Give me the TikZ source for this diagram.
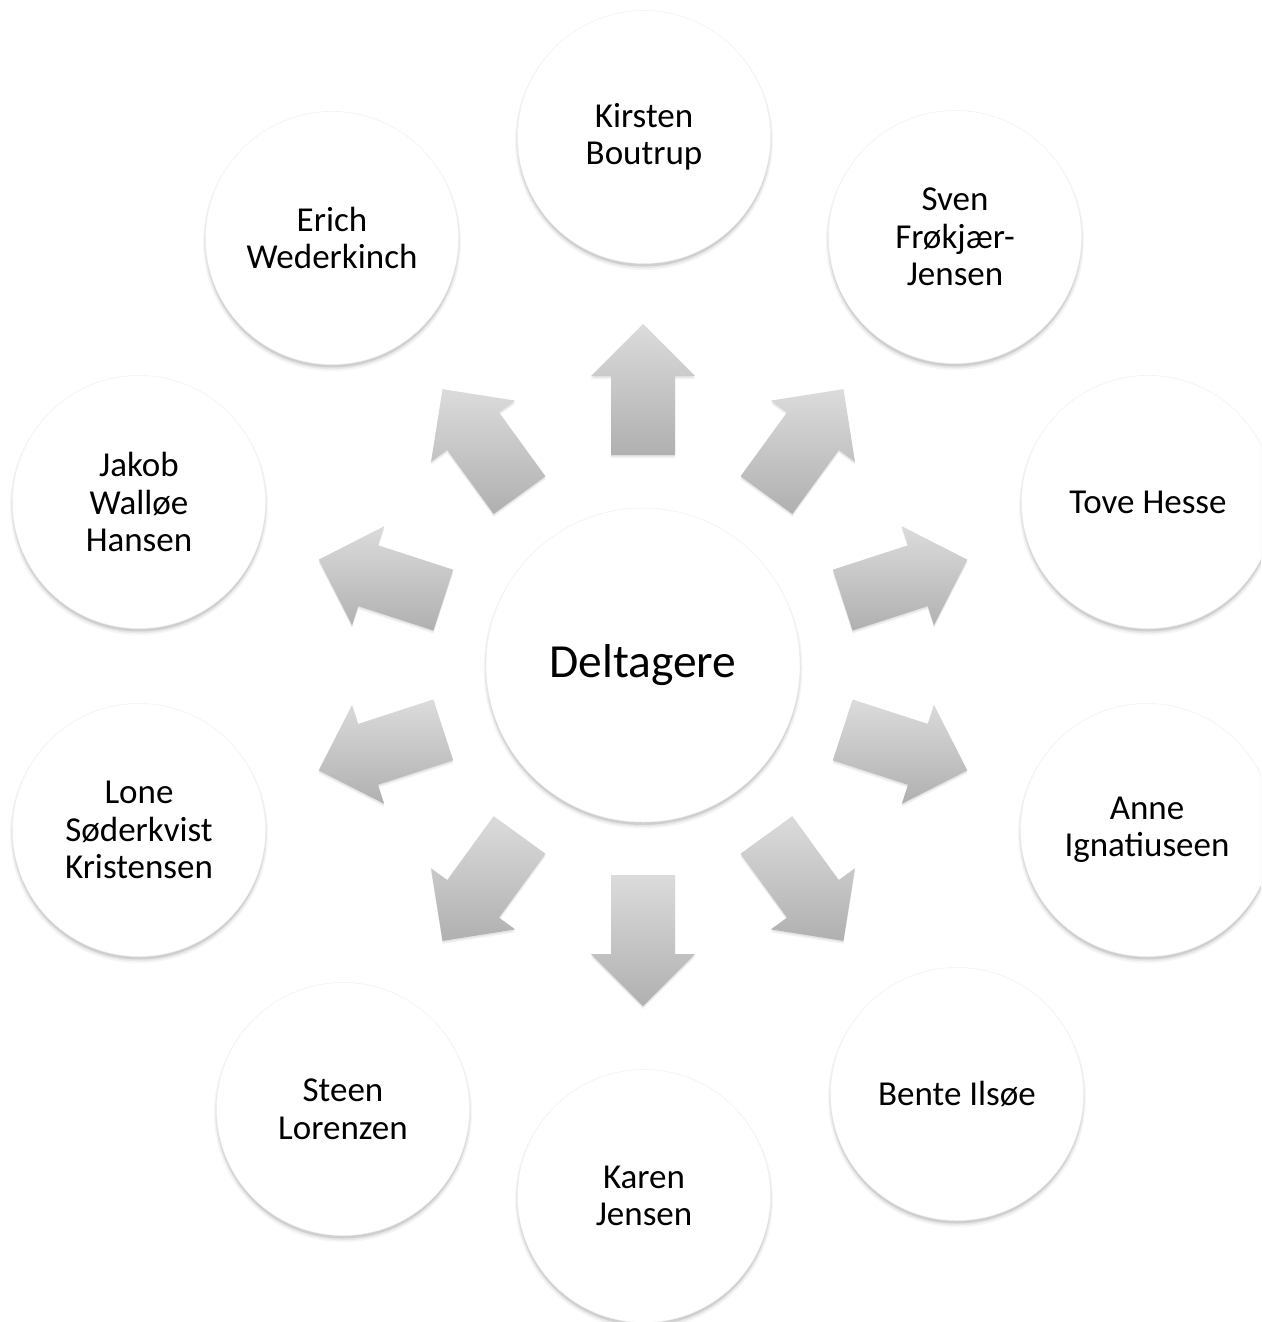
\documentclass[tikz,border=0pt]{standalone}
\usepackage{fontspec}
\setmainfont{Carlito}
\newcommand\arpt[2]{({643+(#1)*\s+(#2)*\c},{665-(#1)*\c+(#2)*\s})}
\newcommand\arshape{\arpt{210}{-32} -- \arpt{289}{-32} -- \arpt{289}{-52} -- \arpt{341}{0} -- \arpt{289}{52} -- \arpt{289}{32} -- \arpt{210}{32} -- cycle}
\begin{document}
\begin{tikzpicture}[x=1pt,y=-1pt,
  person/.style={circle, fill=white, draw=black!6, line width=0.5pt, minimum size=253pt, inner sep=0pt, align=center, font=\fontsize{35}{37.5}\selectfont},
  hub/.style={circle, fill=white, draw=black!6, line width=0.5pt, minimum size=314pt, inner sep=0pt, font=\fontsize{47.5}{56}\selectfont},
  arrowshade/.style={top color=black!14, bottom color=black!31, draw=none},
  shadowlayer/.style={fill=black, draw=none},
]
\useasboundingbox (0,0) rectangle (1261,1322);
\clip (0,0) rectangle (1261,1322);
% soft shadows of the circles
\foreach \x/\y/\r in {644/137/126.5, 955/237/126.5, 1148/502/126.5, 1147/830/126.5, 957/1094/126.5, 644/1196/126.5, 343/1109/126.5, 139/830/126.5, 139/502/126.5, 332/238/126.5, 643/665/157}{
  \fill[shadowlayer, opacity=0.04] (\x,\y+4) circle[radius=\r pt+2.5pt];
  \fill[shadowlayer, opacity=0.06] (\x,\y+3.5) circle[radius=\r pt+1.2pt];
  \fill[shadowlayer, opacity=0.10] (\x,\y+3) circle[radius=\r pt];
}
% circles
\node[hub] (center) at (643,665) {Deltagere};
\node[person] (kirsten) at (644,137) {Kirsten\\Boutrup};
\node[person] (sven) at (955,237) {Sven\\Frøkjær-\\Jensen};
\node[person] (tove) at (1148,502) {Tove Hesse};
\node[person] (anne) at (1147,830) {Anne\\Ignatiuseen};
\node[person] (bente) at (957,1094) {Bente Ilsøe};
\node[person] (karen) at (644,1196) {Karen\\Jensen};
\node[person] (steen) at (343,1109) {Steen\\Lorenzen};
\node[person] (lone) at (139,830) {Lone\\Søderkvist\\Kristensen};
\node[person] (jakob) at (139,502) {Jakob\\Walløe\\Hansen};
\node[person] (erich) at (332,238) {Erich\\Wederkinch};
% block arrows
\foreach \a in {0,36,...,324}{
  \pgfmathsetmacro\s{sin(\a)}
  \pgfmathsetmacro\c{cos(\a)}
  \begin{scope}[shift={(0,3)}]
    \fill[shadowlayer, opacity=0.05] \arshape;
  \end{scope}
  \begin{scope}[shift={(0,1.5)}]
    \fill[shadowlayer, opacity=0.06] \arshape;
  \end{scope}
  \path[arrowshade] \arshape;
}
\end{tikzpicture}
\end{document}
